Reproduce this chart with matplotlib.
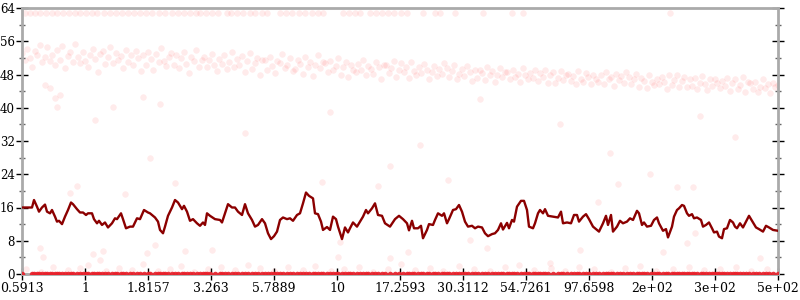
import numpy as np
import matplotlib
matplotlib.use("Agg")
import matplotlib.pyplot as plt

# x axis is a sample position (0..756); tick labels are the original values
tick_labels = ['0.5913', '1', '1.8157', '3.263', '5.7889', '10', '17.2593',
               '30.3112', '54.7261', '97.6598', '2e+02', '3e+02', '5e+02']
x_max = 756

# smoothed curve (dark red line)
line_pos = [0, 10, 12, 15, 17, 20, 23, 25, 28, 30, 33, 35, 37, 40, 43, 46, 49, 51, 55, 58, 61,
            64, 66, 70, 72, 75, 77, 80, 83, 86, 90, 93, 95, 99, 101, 104, 108, 111, 115, 118, 122, 126,
            128, 133, 136, 138, 141, 143, 146, 150, 153, 156, 160, 162, 165, 168, 171, 175, 178, 181,
            183, 185, 188, 193, 198, 200, 203, 206, 210, 213, 216, 220, 223, 226, 230, 233, 236, 240,
            243, 246, 249, 252, 255, 258,
            261, 265, 268, 271, 275, 278, 281, 284, 287, 291, 293, 296, 299, 301, 305, 308, 311, 314,
            316, 320, 323, 326, 328, 331, 335, 338, 341, 344, 346, 350, 353, 356, 360, 363, 368, 373,
            377, 381, 385, 387,
            390, 392, 396, 399, 401, 405, 407, 411, 413, 416, 420, 422, 425, 427, 431, 434, 437, 440,
            443, 446, 450, 453, 456, 460, 463, 466, 470, 473, 476, 479, 481, 485, 487, 490, 492, 495,
            499, 502, 505, 507, 511, 513, 516,
            518, 521, 523, 526, 531, 536, 539, 541, 545, 549, 552, 555, 557, 561, 564, 567, 571, 574,
            577, 581, 584, 586, 589, 591, 595, 598, 601, 605, 608, 611, 615, 617, 620, 622, 625, 629,
            632, 635, 637,
            641, 644, 646, 650, 652, 655, 657, 660, 662, 665, 667, 670, 672, 675, 679, 681, 684, 687,
            690, 692, 695, 697, 700, 702, 705, 708, 711, 713, 715, 718, 721, 724, 727, 731, 734, 737,
            741, 744, 747, 751, 756]
line_val = [16.0, 16.0, 17.8, 16.2, 15.0, 16.0, 16.7, 15.0, 14.6, 15.4, 13.8, 12.6, 12.8, 12.0, 13.8,
            15.4, 17.2, 16.8, 15.6, 14.8, 14.8, 14.2, 14.6, 14.6, 13.2, 12.2, 12.8, 11.8, 12.4, 11.2,
            12.2, 13.4, 13.2, 14.6, 13.2, 11.0, 11.4, 11.4, 13.4, 13.2, 15.4, 14.8,
            14.6, 13.6, 12.6, 10.6, 9.8, 11.4, 14.0, 16.0, 17.8, 17.2, 15.6, 16.4, 15.0, 12.8, 13.2,
            12.2, 11.6, 12.4, 11.8, 14.6, 14.0, 13.2, 13.0, 12.4, 14.6, 16.8, 16.0, 16.0, 15.0, 14.2,
            16.8, 14.6, 13.0, 11.4, 11.8, 13.2, 12.2, 9.8, 8.4, 9.1, 10.2, 13.0,
            13.6, 13.2, 13.4, 12.8, 14.2, 14.6, 17.0, 19.6, 18.8, 18.2, 14.6, 14.4, 12.6, 10.6, 11.3,
            10.6, 13.8, 13.2, 11.4, 8.4, 11.2, 10.0, 11.0, 12.4, 11.4, 12.6, 13.8, 15.4, 14.6, 15.8,
            17.0, 14.2, 14.0, 12.2, 11.4, 13.2, 14.0, 13.2, 12.2, 10.5,
            12.8, 11.0, 11.0, 11.6, 8.6, 10.6, 12.0, 11.8, 13.0, 14.6, 14.0, 14.6, 12.2, 13.2, 15.4,
            15.6, 16.6, 15.0, 12.6, 11.4, 11.6, 11.0, 11.4, 11.2, 9.8, 9.1, 9.6, 9.8, 10.6, 12.2,
            10.7, 12.3, 11.0, 13.0, 12.6, 16.2, 17.6, 17.6, 15.4, 11.4, 11.0, 12.2, 14.6,
            15.4, 14.6, 15.6, 14.0, 13.8, 13.6, 15.0, 12.2, 12.4, 12.2, 14.2, 14.2, 12.6, 13.8, 14.4,
            13.2, 11.4, 10.8, 10.2, 12.2, 14.0, 11.8, 14.2, 10.2, 11.4, 12.8, 12.2, 12.6, 13.4, 13.0,
            15.2, 14.6, 11.8, 12.4, 11.4, 11.6, 13.0, 13.6, 12.2,
            10.4, 10.8, 8.8, 11.4, 13.8, 15.4, 15.8, 16.6, 16.4, 14.6, 14.0, 14.4, 13.4, 13.6, 13.0,
            11.4, 11.8, 12.4, 11.0, 10.0, 10.2, 9.0, 8.6, 10.8, 11.0, 13.0, 12.4, 11.4, 11.0, 12.2,
            11.2, 12.6, 14.0, 12.4, 11.2, 10.8, 10.2, 11.6, 11.2, 10.6, 10.4]

# main band of raw samples (evenly spread over the x range, left to right)
band_val = [
    53.1, 51.4, 54.2, 52.0, 49.8, 53.6, 52.7, 55.0, 50.9, 52.3, 54.6, 51.2,
    52.8, 50.3, 53.9, 51.6, 54.8, 49.5, 52.4, 53.3, 51.0, 55.3, 52.1, 50.7,
    53.5, 51.2, 49.9, 52.6, 54.1, 51.8, 48.7, 52.9, 53.7, 50.6, 52.2, 54.6,
    50.8, 53.2, 51.5, 52.4, 49.6, 54.0, 51.1, 52.8, 50.2, 53.6, 51.9, 48.9,
    52.6, 50.4, 53.5, 51.7, 49.2, 52.9, 50.9, 54.3, 51.3, 50.1, 52.2, 53.1,
    50.2, 52.7, 49.5, 51.9, 53.4, 50.6, 48.4, 52.3, 51.2, 54.0, 49.9, 51.6,
    52.1, 49.7, 51.4, 53.0, 50.3, 48.9, 51.8, 50.5, 52.6, 49.3, 51.1, 53.5,
    49.9, 51.8, 50.2, 52.4, 48.6, 51.2, 53.1, 49.4, 50.8, 52.0, 47.9, 51.5,
    51.6, 49.1, 52.3, 50.0, 48.4, 51.3, 50.7, 52.9, 49.6, 50.4, 51.9, 48.8,
    49.3, 51.4, 50.6, 48.2, 52.2, 49.8, 51.0, 47.6, 50.3, 52.7, 49.5, 50.9,
    50.8, 48.6, 51.3, 49.2, 50.1, 52.0, 48.0, 49.9, 51.1, 47.5, 50.4, 49.0,
    48.7, 50.6, 49.1, 51.5, 47.9, 50.0, 49.4, 48.2, 51.0, 49.7, 46.8, 50.3,
    50.2, 48.3, 49.6, 51.2, 47.5, 49.0, 50.7, 48.6, 49.9, 47.2, 50.9, 48.9,
    47.9, 49.8, 48.4, 50.5, 49.1, 46.9, 48.7, 50.1, 47.6, 49.4, 48.2, 50.8,
    49.6, 47.4, 48.9, 50.2, 46.8, 48.1, 49.3, 47.7, 50.0, 48.5, 46.4, 49.0,
    47.2, 49.1, 48.4, 46.6, 49.8, 47.8, 48.9, 46.1, 48.0, 49.5, 47.4, 48.6,
    48.7, 46.8, 49.2, 47.5, 48.1, 46.2, 49.6, 47.9, 46.9, 48.4, 47.1, 49.0,
    46.5, 48.3, 47.4, 49.0, 46.0, 47.8, 48.6, 45.9, 47.2, 48.9, 46.7, 47.9,
    48.2, 46.4, 47.7, 45.8, 48.8, 47.0, 46.2, 48.4, 47.5, 45.6, 48.0, 46.9,
    46.3, 47.9, 45.7, 48.5, 46.8, 47.4, 45.2, 48.1, 46.6, 47.7, 45.9, 48.6,
    47.5, 45.6, 46.9, 48.2, 45.1, 47.2, 46.4, 44.8, 47.8, 46.1, 45.5, 47.0,
    45.8, 47.3, 46.2, 44.6, 47.9, 45.4, 46.7, 48.0, 45.0, 46.5, 47.4, 44.9,
    46.9, 45.2, 47.2, 44.5, 46.0, 47.7, 45.6, 44.2, 46.8, 45.3, 47.0, 45.9,
    44.8, 46.5, 45.3, 47.1, 44.1, 45.9, 46.8, 44.6, 45.5, 47.4, 43.9, 46.2,
    45.9, 44.4, 46.3, 43.8, 45.1, 46.9, 44.7, 45.6, 43.5, 46.0, 44.9, 45.4]

# samples sitting at the maximum (63)
top_pos = [3, 8, 13, 18, 24, 30, 35, 41, 47, 53, 58, 64, 70, 75, 82, 88, 94, 100, 106, 112,
           118, 124, 130, 137, 143, 150, 156, 162, 168, 174, 178, 184, 190, 196, 205, 209, 215,
           221, 228, 233, 240, 245, 258, 264, 270, 277, 283, 290, 296, 301, 321, 327, 333, 338,
           348, 354, 360, 366, 372, 379, 385, 401, 413, 418, 433, 461, 490, 501, 648]
top_val = 62.9

# small values just above zero
low_pos = [4, 19, 31, 46, 58, 66, 84, 97, 110, 121, 136, 148, 159, 172, 186, 199, 213, 226,
           238, 252, 266, 281, 293, 309, 322, 337, 351, 366, 379, 393, 408, 421, 437, 452, 468,
           483, 497, 512, 529, 543, 557, 572, 589, 603, 618, 634, 651, 667, 682, 698, 714, 729, 745]
low_val = [1.2, 0.6, 1.8, 0.9, 1.4, 2.1, 0.7, 1.5, 1.0, 2.4, 0.8, 1.3, 1.9, 0.6, 1.1, 1.7, 0.9,
           2.2, 1.4, 0.7, 1.6, 1.0, 2.0, 0.8, 1.3, 1.8, 0.6, 1.2, 2.3, 0.9, 1.5, 0.7, 1.9, 1.1,
           0.8, 1.6, 2.1, 0.9, 1.4, 0.7, 1.8, 1.2, 0.6, 1.5, 2.0, 0.8, 1.3, 1.7, 0.9, 1.1, 1.6,
           0.7, 1.2]

# scattered outliers
odd_pos = [48, 55, 103, 18, 21, 71, 81, 125, 163, 153, 133, 190, 78, 300, 356, 426, 316, 368,
           386, 448, 465, 318, 596, 576, 655, 671, 558, 528, 641, 665, 738, 673,
           38, 73, 138, 223, 308, 398, 458, 538, 588, 678, 713, 128, 368, 628,
           23, 28, 33, 35, 91, 121]
odd_val = [19.6, 21.2, 19.2, 6.3, 4.2, 4.8, 5.6, 5.0, 5.5, 22.0, 7.0, 5.8, 3.4, 22.2, 21.2, 22.6,
           4.2, 3.8, 5.4, 8.2, 6.3, 7.8, 21.7, 17.4, 21.0, 21.0, 5.8, 2.6, 5.4, 7.5, 3.8, 9.9,
           43.0, 37.0, 41.0, 34.0, 39.0, 31.0, 42.0, 36.0, 29.0, 38.0, 33.0, 28.0, 26.0, 24.0,
           45.5, 44.7, 42.3, 40.2, 40.3, 42.7]

fig = plt.figure(figsize=(8, 3), dpi=100)
ax = fig.add_axes([22 / 800, 26 / 300, 756 / 800, 266 / 300])

pt = dict(c='red', s=22, linewidths=0, alpha=0.08)
band_pos = np.linspace(0, x_max, len(band_val))
ax.scatter(band_pos, band_val, **pt)
ax.scatter(top_pos, [top_val] * len(top_pos), **pt)
ax.scatter(low_pos, low_val, **pt)
ax.scatter(odd_pos, odd_val, **pt)
# zero-valued samples pile up at every position
ax.scatter(line_pos, np.zeros(len(line_pos)), c='#e8202a', s=16, linewidths=0, alpha=0.9,
           zorder=3)

ax.plot(line_pos, line_val, color='#8b0000', lw=1.7, zorder=5)

ax.set_xlim(0, x_max)
ax.set_ylim(0, 64)
ax.set_xticks(np.linspace(0, x_max, len(tick_labels)))
ax.set_xticklabels(tick_labels)
ax.set_yticks(np.arange(0, 65, 8))
ax.set_yticks(np.arange(4, 64, 8), minor=True)

for s in ax.spines.values():
    s.set_color('#aaaaaa')
    s.set_linewidth(2)

ax.tick_params(axis='both', which='major', direction='inout', length=8, width=1,
               color='black', labelsize=9, labelfontfamily='DejaVu Serif')
ax.tick_params(axis='y', which='both', right=True)
ax.tick_params(axis='y', which='major', labelsize=8.5, pad=1.2)
ax.tick_params(axis='y', which='minor', direction='inout', length=5, width=1, color='#666666')
ax.tick_params(axis='x', pad=2)

fig.savefig('out.png', dpi=100)
